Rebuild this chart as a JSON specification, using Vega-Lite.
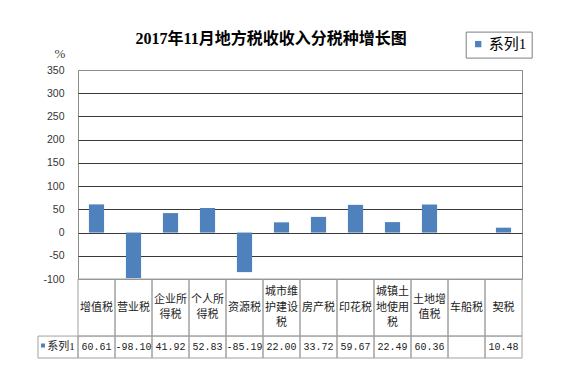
{
  "$schema": "https://vega.github.io/schema/vega-lite/v6.json",
  "background": "white",
  "padding": {"left": 37, "top": 30, "right": 5, "bottom": 5},
  "title": {
    "text": "2017年11月地方税收收入分税种增长图",
    "fontSize": 16,
    "fontWeight": "bold",
    "font": "Liberation Serif, Noto Sans CJK SC",
    "color": "#000000",
    "anchor": "middle",
    "offset": -16.5,
    "dx": -14
  },
  "datasets": {
    "taxes": [
      {"tax": "增值税", "value": 60.61, "series": "系列1"},
      {"tax": "营业税", "value": -98.10, "series": "系列1"},
      {"tax": "企业所得税", "value": 41.92, "series": "系列1"},
      {"tax": "个人所得税", "value": 52.83, "series": "系列1"},
      {"tax": "资源税", "value": -85.19, "series": "系列1"},
      {"tax": "城市维护建设税", "value": 22.00, "series": "系列1"},
      {"tax": "房产税", "value": 33.72, "series": "系列1"},
      {"tax": "印花税", "value": 59.67, "series": "系列1"},
      {"tax": "城镇土地使用税", "value": 22.49, "series": "系列1"},
      {"tax": "土地增值税", "value": 60.36, "series": "系列1"},
      {"tax": "车船税", "value": null, "series": "系列1"},
      {"tax": "契税", "value": 10.48, "series": "系列1"}
    ]
  },
  "columns": 2,
  "spacing": 0,
  "bounds": "flush",
  "resolve": {"scale": {"x": "independent", "y": "independent", "color": "independent"}},
  "concat": [
    {
      "width": 40,
      "height": 209,
      "data": {"values": [{}]},
      "mark": {"type": "text"},
      "encoding": {}
    },
    {
      "width": 444,
      "height": 209,
      "data": {"name": "taxes"},
      "view": {"stroke": "#8c8c8c", "strokeWidth": 1},
      "mark": {"type": "bar"},
      "encoding": {
        "x": {
          "field": "tax", "type": "nominal", "sort": null,
          "scale": {
            "domain": ["增值税", "营业税", "企业所得税", "个人所得税", "资源税", "城市维护建设税", "房产税", "印花税", "城镇土地使用税", "土地增值税", "车船税", "契税"],
            "paddingInner": 0.59, "paddingOuter": 0.295
          },
          "axis": null
        },
        "y": {
          "field": "value", "type": "quantitative",
          "scale": {"domain": [-100, 350], "nice": false},
          "axis": {
            "values": [-100, -50, 0, 50, 100, 150, 200, 250, 300, 350],
            "title": "%",
            "titleAngle": 0,
            "titleX": -18.5,
            "titleY": -17,
            "titleAlign": "center",
            "titleBaseline": "middle",
            "titleFontSize": 13,
            "titleFontWeight": "normal",
            "titleColor": "#404040",
            "titleFont": "Liberation Serif",
            "domain": false,
            "ticks": false,
            "labelPadding": 14,
            "labelFontSize": 10.5,
            "labelColor": "#333333",
            "labelFont": "Liberation Sans",
            "gridColor": {"condition": {"test": "datum.value === 350 || datum.value === -100", "value": "#8c8c8c"}, "value": "#3a3a3a"},
            "gridWidth": 1
          }
        },
        "color": {
          "field": "series", "type": "nominal",
          "scale": {"range": ["#4F81BD"]},
          "legend": {
            "title": null,
            "orient": "none",
            "legendX": 387.7,
            "legendY": -38.4,
            "strokeColor": "#7f7f7f",
            "padding": 5,
            "symbolType": "square",
            "symbolSize": 40,
            "symbolStrokeWidth": 0,
            "labelFontSize": 15,
            "labelFont": "Liberation Serif, Noto Sans CJK SC",
            "labelColor": "#000000",
            "labelOffset": 3
          }
        }
      }
    },
    {
      "width": 40,
      "height": 79,
      "data": {"values": [{"series": "系列1"}]},
      "layer": [
        {
          "mark": {"type": "rect", "fill": "transparent", "stroke": "#a0a0a0", "strokeWidth": 1},
          "encoding": {
            "x": {"datum": 0, "type": "quantitative", "scale": {"domain": [0, 1], "nice": false}, "axis": null},
            "x2": {"datum": 1},
            "y": {"datum": 0, "type": "quantitative", "scale": {"domain": [0, 3.6], "nice": false}, "axis": null},
            "y2": {"datum": 1}
          }
        },
        {
          "mark": {"type": "square", "color": "#4F81BD", "filled": true, "size": 16, "opacity": 1},
          "encoding": {
            "x": {"datum": 0.125, "type": "quantitative"},
            "y": {"datum": 0.57, "type": "quantitative"}
          }
        },
        {
          "mark": {"type": "text", "align": "left", "baseline": "middle", "fontSize": 11, "font": "Liberation Serif, Noto Sans CJK SC", "color": "#222222"},
          "encoding": {
            "x": {"datum": 0.23, "type": "quantitative"},
            "y": {"datum": 0.5, "type": "quantitative"},
            "text": {"field": "series"}
          }
        }
      ]
    },
    {
      "width": 444,
      "height": 79,
      "data": {"name": "taxes"},
      "transform": [
        {"calculate": "length(datum.tax) <= 3 ? datum.tax : (length(datum.tax) <= 6 ? substring(datum.tax, 0, 3) + '|' + substring(datum.tax, 3) : substring(datum.tax, 0, 3) + '|' + substring(datum.tax, 3, 6) + '|' + substring(datum.tax, 6))", "as": "label"},
        {"calculate": "ceil(length(datum.tax) / 3)", "as": "nlines"}
      ],
      "encoding": {
        "x": {
          "field": "tax", "type": "nominal", "sort": null,
          "scale": {"paddingInner": 0, "paddingOuter": 0},
          "axis": null
        }
      },
      "layer": [
        {
          "mark": {"type": "rect", "fill": "transparent", "stroke": "#a0a0a0", "strokeWidth": 1},
          "encoding": {
            "y": {"datum": 1, "type": "quantitative", "scale": {"domain": [0, 3.6], "nice": false}, "axis": null},
            "y2": {"datum": 3.6}
          }
        },
        {
          "mark": {"type": "rect", "fill": "transparent", "stroke": "#a0a0a0", "strokeWidth": 1},
          "encoding": {
            "y": {"datum": 0, "type": "quantitative"},
            "y2": {"datum": 1}
          }
        },
        {
          "transform": [{"filter": "datum.nlines === 1"}],
          "mark": {"type": "text", "fontSize": 11, "lineHeight": 15.3, "baseline": "middle", "lineBreak": "|", "font": "Noto Sans CJK SC", "color": "#222222"},
          "encoding": {
            "y": {"datum": 2.3, "type": "quantitative"},
            "text": {"field": "label"}
          }
        },
        {
          "transform": [{"filter": "datum.nlines === 2"}],
          "mark": {"type": "text", "fontSize": 11, "lineHeight": 15.3, "baseline": "middle", "lineBreak": "|", "font": "Noto Sans CJK SC", "color": "#222222"},
          "encoding": {
            "y": {"datum": 2.647, "type": "quantitative"},
            "text": {"field": "label"}
          }
        },
        {
          "transform": [{"filter": "datum.nlines === 3"}],
          "mark": {"type": "text", "fontSize": 11, "lineHeight": 15.3, "baseline": "middle", "lineBreak": "|", "font": "Noto Sans CJK SC", "color": "#222222"},
          "encoding": {
            "y": {"datum": 2.994, "type": "quantitative"},
            "text": {"field": "label"}
          }
        },
        {
          "transform": [{"filter": "isValid(datum.value)"}],
          "mark": {"type": "text", "fontSize": 10, "baseline": "middle", "font": "Liberation Mono", "color": "#222222"},
          "encoding": {
            "y": {"datum": 0.5, "type": "quantitative"},
            "text": {"field": "value", "type": "quantitative", "format": ".2f"}
          }
        }
      ]
    }
  ],
  "config": {
    "view": {"stroke": null},
    "font": "Noto Sans CJK SC",
    "locale": {"number": {"decimal": ".", "thousands": ",", "grouping": [3], "currency": ["$", ""], "minus": "-"}}
  }
}
